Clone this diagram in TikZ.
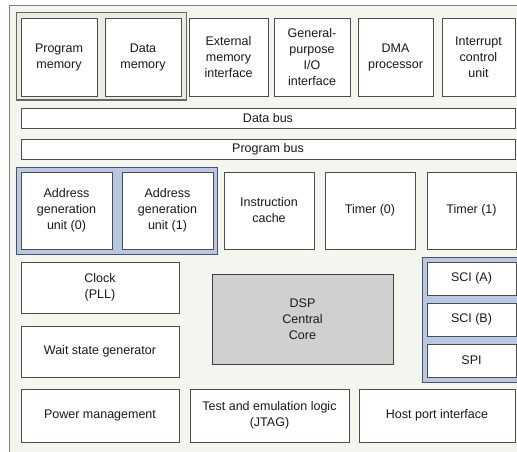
\documentclass[tikz,border=0pt]{standalone}
\usepackage{fontspec}
\setmainfont{Liberation Sans}
\definecolor{panel}{HTML}{F3F5EF}
\definecolor{memgray}{HTML}{EAECE4}
\definecolor{grpblue}{HTML}{B8C8E0}
\definecolor{coregray}{HTML}{D0D0D0}
\begin{document}
\begin{tikzpicture}[x=1pt, y=-1pt,
  blk/.style={rectangle, draw=black!70, fill=white, line width=0.8pt, inner sep=0pt, align=center, text=black!90, font=\fontsize{12.5}{16}\selectfont},
  memgrp/.style={rectangle, draw=black!60, fill=memgray, line width=1pt, inner sep=0pt},
  bluegrp/.style={rectangle, draw=black!60!blue!40!gray, fill=grpblue, line width=1pt, inner sep=0pt},
  core/.style={blk, fill=coregray, draw=black!75}]
\useasboundingbox (0,0) rectangle (517,452);
\fill[panel] (9,5) rectangle (530,460);
\draw[black!50, line width=0.8pt] (530,5) -- (9,5) -- (9,460);

\node[memgrp, minimum width=170pt, minimum height=87pt] (memgroup) at (101,56.5) {};
\node[blk, minimum width=76pt, minimum height=78pt] (pmem) at (59,57) {Program\\memory};
\node[blk, minimum width=76pt, minimum height=78pt] (dmem) at (143,57) {Data\\memory};
\node[blk, minimum width=79pt, minimum height=78pt] (emif) at (228.5,57) {External\\memory\\interface};
\node[blk, minimum width=76pt, minimum height=78pt] (gpio) at (312,57) {General-\\purpose\\I/O\\interface};
\node[blk, minimum width=75pt, minimum height=78pt] (dma) at (395.5,57) {DMA\\processor};
\node[blk, minimum width=73pt, minimum height=78pt] (intc) at (478.5,57) {Interrupt\\control\\unit};

\node[blk, minimum width=494pt, minimum height=20pt] (dbus) at (268,118) {Data bus};
\node[blk, minimum width=494pt, minimum height=20pt] (pbus) at (268,149) {Program bus};

\node[bluegrp, minimum width=201pt, minimum height=87pt] (agugroup) at (116.5,210.5) {};
\node[blk, minimum width=91pt, minimum height=77pt] (agu0) at (66.5,210.5) {Address\\generation\\unit (0)};
\node[blk, minimum width=91pt, minimum height=77pt] (agu1) at (167.5,210.5) {Address\\generation\\unit (1)};
\node[blk, minimum width=90pt, minimum height=77pt] (icache) at (269,210.5) {Instruction\\cache};
\node[blk, minimum width=90pt, minimum height=77pt] (timer0) at (370,210.5) {Timer (0)};
\node[blk, minimum width=89pt, minimum height=77pt] (timer1) at (471.5,210.5) {Timer (1)};

\node[blk, minimum width=158pt, minimum height=51pt] (clock) at (100,287.5) {Clock\\(PLL)};
\node[blk, minimum width=158pt, minimum height=51pt] (wait) at (100,351.5) {Wait state generator};
\node[core, minimum width=181pt, minimum height=90pt] (dspcore) at (302.5,319) {DSP\\Central\\Core};

\node[bluegrp, minimum width=100pt, minimum height=125pt] (scigroup) at (472,319.5) {};
\node[blk, minimum width=89pt, minimum height=33pt] (scia) at (471.5,278.5) {SCI (A)};
\node[blk, minimum width=89pt, minimum height=33pt] (scib) at (471.5,319.5) {SCI (B)};
\node[blk, minimum width=89pt, minimum height=33pt] (spi) at (471.5,360.5) {SPI};

\node[blk, minimum width=158pt, minimum height=53pt] (power) at (100,415.5) {Power management};
\node[blk, minimum width=159pt, minimum height=53pt] (jtag) at (269.5,415.5) {Test and emulation logic\\(JTAG)};
\node[blk, minimum width=156pt, minimum height=53pt] (hpi) at (437,415.5) {Host port interface};
\end{tikzpicture}
\end{document}
